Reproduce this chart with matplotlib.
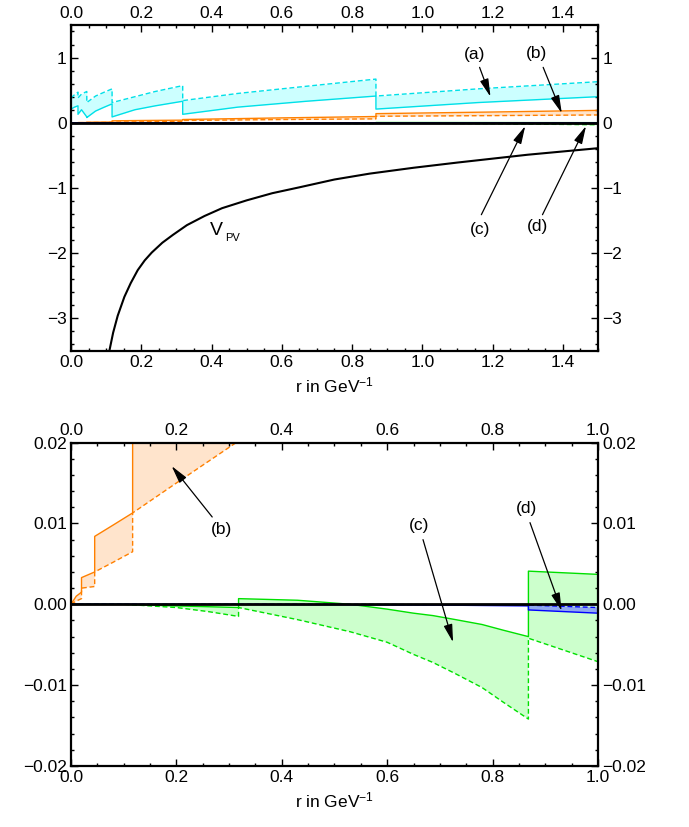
import matplotlib
matplotlib.use("Agg")
import matplotlib.pyplot as plt
from matplotlib.ticker import MultipleLocator, FuncFormatter

plt.rcParams['font.family'] = ['Liberation Sans', 'DejaVu Sans']
plt.rcParams['mathtext.fontset'] = 'custom'
plt.rcParams['mathtext.rm'] = 'Liberation Sans'
plt.rcParams['mathtext.it'] = 'Liberation Sans'
plt.rcParams['mathtext.default'] = 'regular'
plt.rcParams['font.size'] = 12

# ---------------- data ----------------
# V_PV curve (top panel)
r_v = [0.110, 0.12, 0.133, 0.152, 0.17, 0.19, 0.21, 0.23, 0.26, 0.29, 0.33, 0.38, 0.43,
       0.5, 0.573, 0.65, 0.75, 0.85, 0.975, 1.1, 1.2, 1.3, 1.4, 1.5]
v_pv = [-3.48, -3.22, -2.96, -2.67, -2.46, -2.26, -2.11, -1.99, -1.84, -1.72, -1.57, -1.43, -1.31,
        -1.19, -1.08, -0.99, -0.87, -0.78, -0.69, -0.61, -0.55, -0.49, -0.44, -0.39]

# (a) cyan band
r_a = [0.0, 0.01, 0.02, 0.02, 0.03, 0.045, 0.045, 0.07, 0.095, 0.117, 0.117, 0.182, 0.24,
       0.318, 0.318, 0.475, 0.67, 0.868, 0.868, 1.158, 1.5]
a_dashed = [0.38, 0.43, 0.47, 0.38, 0.44, 0.48, 0.31, 0.41, 0.47, 0.52, 0.31, 0.40, 0.48,
            0.57, 0.34, 0.45, 0.56, 0.67, 0.41, 0.52, 0.63]
a_solid = [0.21, 0.24, 0.26, 0.13, 0.20, 0.09, 0.08, 0.18, 0.24, 0.29, 0.09, 0.20, 0.26,
           0.33, 0.13, 0.24, 0.33, 0.41, 0.21, 0.31, 0.40]

# (b) orange band
r_b = [0.0, 0.01, 0.02, 0.02, 0.045, 0.045, 0.08, 0.117, 0.117, 0.2, 0.318, 0.318,
       0.6, 0.868, 0.868, 1.2, 1.5]
b_solid = [0.0, 0.0010, 0.0015, 0.0033, 0.0040, 0.0084, 0.0098, 0.0113, 0.030, 0.035, 0.040,
           0.050, 0.075, 0.096, 0.140, 0.165, 0.190]
b_dashed = [0.0, 0.0004, 0.0007, 0.0020, 0.0022, 0.0040, 0.0052, 0.0065, 0.0113, 0.0150, 0.0202,
            0.035, 0.050, 0.060, 0.100, 0.110, 0.120]

# (c) green band
r_c = [0.0, 0.1, 0.2, 0.26, 0.318, 0.318, 0.43, 0.53, 0.6, 0.65, 0.687, 0.73, 0.78, 0.82, 0.868,
       0.868, 1.0, 1.2, 1.5]
c_solid = [0.0, 0.0, -0.0002, -0.0003, -0.0004, 0.0007, 0.0005, 0.0, -0.0006, -0.0011, -0.0014,
           -0.0019, -0.0025, -0.0032, -0.0040, 0.0041, 0.0037, 0.0030, 0.0020]
c_dashed = [0.0, 0.0, -0.0004, -0.0009, -0.0015, -0.0004, -0.0019, -0.0034, -0.0047, -0.0062, -0.0072,
            -0.0086, -0.0103, -0.0121, -0.0142, -0.0042, -0.0071, -0.0150, -0.0300]

# (d) blue band
r_d = [0.0, 0.3, 0.5, 0.7, 0.868, 0.868, 1.0, 1.2, 1.5]
d_solid = [0.0, 0.0, -0.00005, -0.0001, -0.0002, -0.0007, -0.0011, -0.0018, -0.0030]
d_dashed = [0.0, 0.0, 0.0, -0.00005, -0.0001, -0.0001, -0.0004, -0.0008, -0.0015]

bands = [
    (r_a, a_solid, a_dashed, '#00E0E8', '#CCFFFF'),
    (r_b, b_solid, b_dashed, '#FF8000', '#FFE4CC'),
    (r_c, c_solid, c_dashed, '#00E000', '#CCFFCC'),
    (r_d, d_solid, d_dashed, '#0000FF', '#8FA8F0'),
]

fig = plt.figure(figsize=(6.89, 8.27), dpi=100)
ax1 = fig.add_axes([0.1030, 0.5756, 0.7649, 0.3942])
ax2 = fig.add_axes([0.1030, 0.0738, 0.7649, 0.3910])


def minus(s):
    return s.replace('-', '\u2212')


def style(ax, xmaj, xmin, ymaj, ymin, yfmt):
    ax.xaxis.set_major_locator(MultipleLocator(xmaj))
    ax.xaxis.set_minor_locator(MultipleLocator(xmin))
    ax.yaxis.set_major_locator(MultipleLocator(ymaj))
    ax.yaxis.set_minor_locator(MultipleLocator(ymin))
    ax.xaxis.set_major_formatter(FuncFormatter(lambda v, p: minus('%.1f' % v)))
    ax.yaxis.set_major_formatter(
        FuncFormatter(lambda v, p: minus(yfmt % v) if abs(v) > 1e-12 else yfmt % 0))
    ax.tick_params(which='both', direction='in', top=True, right=True,
                   labeltop=True, labelright=True, labelsize=12.5, width=1.0, pad=3)
    ax.tick_params(which='major', length=5)
    ax.tick_params(which='minor', length=2.5)
    for s in ax.spines.values():
        s.set_linewidth(1.6)
    ax.set_xlabel(r'r in GeV$^{-1}$', fontsize=12.5, labelpad=4)


for ax in (ax1, ax2):
    for r, sol, das, lc, fc in bands:
        ax.fill_between(r, sol, das, color=fc, lw=0, zorder=1)
        ax.plot(r, sol, color=lc, lw=1.0, zorder=2)
        ax.plot(r, das, color=lc, lw=1.0, ls=(0, (3.5, 2)), zorder=2)
    ax.axhline(0, color='k', lw=2.0, zorder=3)

ax1.plot(r_v, v_pv, color='k', lw=1.5, zorder=3)
ax1.set_xlim(0, 1.5)
ax1.set_ylim(-3.5, 1.5)
style(ax1, 0.2, 0.05, 1, 0.2, '%d')

ax2.set_xlim(0, 1.0)
ax2.set_ylim(-0.02, 0.02)
style(ax2, 0.2, 0.05, 0.01, 0.002, '%.2f')

arrow = dict(arrowstyle='-|>,head_length=0.9,head_width=0.22', color='k', lw=0.9,
             shrinkA=0, shrinkB=0)

# top panel labels
ax1.text(0.413, -1.65, 'V', fontsize=14, ha='center', va='center')
ax1.text(0.438, -1.77, 'PV', fontsize=8, ha='left', va='center')
ax1.text(1.150, 1.05, '(a)', ha='center', va='center', fontsize=12.5)
ax1.annotate('', xy=(1.194, 0.40), xytext=(1.163, 0.85), arrowprops=arrow, zorder=5)
ax1.text(1.326, 1.06, '(b)', ha='center', va='center', fontsize=12.5)
ax1.annotate('', xy=(1.397, 0.147), xytext=(1.344, 0.85), arrowprops=arrow, zorder=5)
ax1.text(1.163, -1.63, '(c)', ha='center', va='center', fontsize=12.5)
ax1.annotate('', xy=(1.293, -0.05), xytext=(1.168, -1.41), arrowprops=arrow, zorder=5)
ax1.text(1.329, -1.59, '(d)', ha='center', va='center', fontsize=12.5)
ax1.annotate('', xy=(1.466, -0.05), xytext=(1.342, -1.41), arrowprops=arrow, zorder=5)

# bottom panel labels
ax2.text(0.286, 0.0092, '(b)', ha='center', va='center', fontsize=12.5)
ax2.annotate('', xy=(0.191, 0.0171), xytext=(0.268, 0.0108), arrowprops=arrow, zorder=5)
ax2.text(0.66, 0.0098, '(c)', ha='center', va='center', fontsize=12.5)
ax2.annotate('', xy=(0.725, -0.0047), xytext=(0.668, 0.0080), arrowprops=arrow, zorder=5)
ax2.text(0.865, 0.0119, '(d)', ha='center', va='center', fontsize=12.5)
ax2.annotate('', xy=(0.931, -0.0008), xytext=(0.871, 0.0101), arrowprops=arrow, zorder=5)

fig.savefig('out.png', dpi=100)
